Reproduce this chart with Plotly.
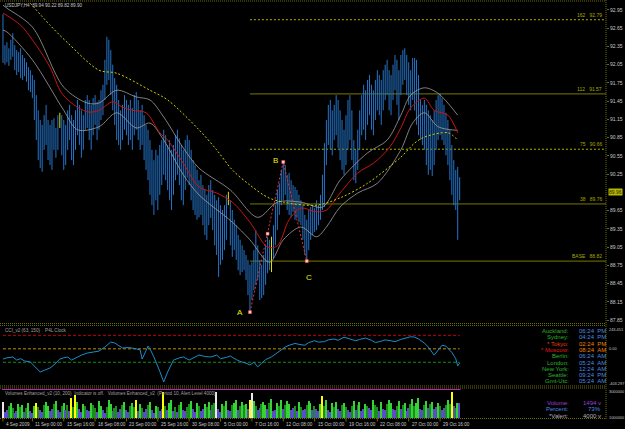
import plotly.graph_objects as go

W, H = 625, 429

# ---------------- data ----------------
tick_idx = [0, 15, 31, 47, 63, 79, 95, 111, 127, 143, 159, 175, 191, 207, 223]
tick_labels = ["4 Sep 2009", "11 Sep 00:00", "15 Sep 16:00", "18 Sep 08:00", "23 Sep 00:00",
               "25 Sep 16:00", "30 Sep 08:00", "5 Oct 00:00", "7 Oct 16:00", "12 Oct 08:00",
               "15 Oct 00:00", "19 Oct 16:00", "22 Oct 08:00", "27 Oct 00:00", "29 Oct 16:00"]

high = [92.88, 92.37, 92.42, 92.32, 92.46, 92.57, 92.37, 92.29, 92.26, 92.32,
        92.21, 92.16, 92.09, 92.01, 91.96, 91.88, 91.80, 91.55, 91.30, 91.14,
        91.06, 91.22, 91.39, 91.14, 91.06, 91.14, 91.17, 91.01, 91.22, 91.26,
        91.22, 91.14, 91.06, 91.30, 91.39, 91.22, 91.14, 91.30, 91.47, 91.39,
        91.30, 91.22, 91.47, 91.55, 91.47, 91.39, 91.50, 91.55, 91.44, 91.47,
        91.63, 91.72, 92.13, 92.51, 92.46, 92.29, 92.05, 91.83, 91.72, 91.47,
        91.30, 91.39, 91.55, 91.47, 91.39, 91.47, 91.34, 91.55, 91.60, 91.47,
        91.30, 91.39, 91.22, 91.06, 90.98, 90.81, 90.65, 90.48, 90.65, 90.56,
        90.73, 90.81, 90.98, 90.89, 90.73, 90.81, 90.65, 90.73, 90.89, 90.98,
        90.84, 90.73, 90.65, 90.81, 90.89, 90.81, 90.65, 90.48, 90.40, 90.32,
        90.15, 90.24, 90.07, 89.99, 89.91, 90.07, 90.15, 89.99, 89.91, 89.82,
        89.87, 89.74, 89.66, 89.74, 89.91, 89.96, 89.82, 89.66, 89.50, 89.41,
        89.25, 89.17, 89.08, 89.00, 88.92, 88.84, 88.76, 88.80, 89.00, 89.33,
        89.08, 88.84, 88.76, 88.92, 89.08, 89.22, 89.17, 89.22, 89.41, 89.74,
        89.99, 90.10, 90.32, 90.45, 90.40, 90.24, 90.27, 90.15, 90.07, 90.04,
        89.99, 89.91, 89.82, 89.74, 89.58, 89.50, 89.66, 89.71, 89.74, 89.69,
        89.82, 89.74, 89.91, 90.24, 90.76, 91.14, 91.39, 91.47, 91.30, 91.39,
        91.55, 91.47, 91.30, 91.14, 90.98, 91.22, 91.47, 91.55, 91.30, 90.81,
        90.65, 90.98, 91.30, 91.55, 91.72, 91.63, 91.80, 91.88, 91.72, 91.63,
        91.80, 91.96, 91.88, 91.80, 91.96, 92.05, 92.13, 91.96, 91.88, 92.05,
        92.21, 92.13, 91.96, 92.21, 92.29, 92.32, 92.21, 92.09, 91.96, 92.16,
        92.16, 92.13, 91.88, 91.47, 91.39, 91.47, 91.39, 91.30, 91.22, 91.14,
        91.30, 91.47, 91.55, 91.58, 91.50, 91.39, 91.26, 91.14, 90.98, 90.73,
        90.48, 90.32, 90.37, 90.20]

low = [92.08, 92.05, 92.09, 92.03, 92.13, 92.18, 91.96, 91.88, 91.93, 91.83,
       91.80, 91.86, 91.77, 91.63, 91.60, 91.50, 91.14, 90.81, 90.48, 90.35,
       90.29, 90.65, 90.73, 90.48, 90.40, 90.32, 90.65, 90.52, 90.65, 91.01,
       90.56, 90.32, 90.40, 90.65, 90.81, 90.48, 90.40, 90.65, 90.89, 90.73,
       90.52, 90.65, 90.98, 91.01, 90.81, 90.65, 90.89, 91.06, 90.81, 90.98,
       91.14, 91.22, 91.47, 91.72, 91.80, 91.55, 91.30, 91.06, 90.81, 90.73,
       90.65, 90.81, 90.98, 90.89, 90.73, 90.81, 90.65, 90.89, 90.98, 90.81,
       90.65, 90.73, 90.48, 90.32, 90.15, 89.91, 89.74, 89.58, 89.82, 89.66,
       89.91, 90.07, 90.24, 90.15, 89.99, 89.82, 89.66, 89.91, 90.15, 90.24,
       90.07, 89.82, 89.74, 89.99, 90.19, 90.07, 89.82, 89.66, 89.58, 89.50,
       89.54, 89.58, 89.41, 89.25, 89.17, 89.41, 89.53, 89.33, 89.08, 88.92,
       88.56, 88.76, 88.84, 89.00, 89.17, 89.74, 89.08, 88.89, 89.00, 88.84,
       88.67, 88.59, 88.64, 88.67, 88.51, 88.26, 87.98, 88.18, 88.34, 88.43,
       88.51, 88.18, 88.21, 88.26, 88.43, 88.62, 88.67, 88.64, 88.87, 89.08,
       89.33, 89.58, 89.74, 89.82, 89.91, 89.66, 89.58, 89.54, 89.63, 89.50,
       89.53, 89.46, 89.41, 89.17, 88.92, 88.82, 89.00, 89.17, 89.25, 89.30,
       89.33, 89.41, 89.50, 89.66, 89.71, 90.40, 90.73, 90.65, 90.56, 90.81,
       90.89, 90.68, 90.48, 90.32, 90.24, 90.40, 90.65, 90.81, 90.48, 90.15,
       90.10, 90.32, 90.65, 90.89, 90.98, 90.81, 91.06, 91.22, 90.98, 90.89,
       91.14, 91.30, 91.22, 91.06, 91.30, 91.47, 91.55, 91.30, 91.22, 91.47,
       91.63, 91.39, 91.14, 91.55, 91.72, 91.80, 91.55, 91.39, 91.30, 91.47,
       91.30, 91.06, 90.89, 90.81, 90.73, 90.65, 90.40, 90.24, 90.32, 90.22,
       90.40, 90.65, 90.81, 90.89, 90.81, 90.73, 90.56, 90.40, 90.15, 89.91,
       89.74, 89.66, 89.17, 89.82]

yellow_bar_idx = [29, 115, 137]

red_idx = [0, 9, 15, 24, 30, 38, 44, 49, 56, 61, 66, 73, 80, 84, 92, 100, 109, 117,
           126, 135, 140, 146, 152, 160, 165, 172, 181, 189, 197, 203, 208, 215, 220, 227, 232]
red_val = [92.90, 92.70, 92.46, 92.01, 91.58, 91.35, 91.27, 91.30, 91.44, 91.35, 91.30,
           91.26, 90.93, 90.81, 90.43, 90.04, 89.94, 89.79, 89.46, 89.05, 89.07, 89.50,
           89.69, 89.63, 89.66, 89.94, 90.27, 90.43, 90.68, 91.01, 91.34, 91.50, 91.30,
           91.22, 90.93]

upper_idx = [0, 2, 15, 31, 43, 49, 58, 68, 75, 82, 92, 100, 116, 130, 140, 152, 163,
             172, 186, 196, 203, 208, 215, 222, 232]
upper_val = [93.03, 92.98, 92.67, 91.68, 91.42, 91.42, 91.63, 91.52, 91.47, 91.19, 90.68,
             90.35, 89.99, 89.54, 89.79, 89.79, 89.71, 90.15, 90.60, 90.81, 91.22, 91.55,
             91.67, 91.58, 91.22]

lower_idx = [0, 2, 15, 31, 38, 49, 58, 68, 75, 82, 92, 100, 117, 126, 136, 143, 152,
             160, 165, 172, 181, 191, 203, 209, 215, 222, 232]
lower_val = [92.62, 92.59, 92.13, 91.30, 90.98, 91.03, 91.26, 91.01, 91.09, 90.81, 90.24,
             89.91, 89.46, 89.17, 88.80, 89.17, 89.38, 89.22, 89.38, 89.71, 89.94, 90.10,
             90.65, 91.09, 91.26, 91.03, 90.97]

slow_idx = [14, 24, 33, 49, 58, 75, 84, 100, 109, 117, 126, 135, 143, 160, 172, 186,
            203, 210, 215, 227, 232]
slow_val = [93.06, 92.70, 92.41, 91.96, 91.91, 91.63, 91.47, 90.98, 90.65, 90.32, 90.07,
            89.87, 89.79, 89.74, 89.86, 90.10, 90.53, 90.76, 90.86, 90.93, 90.81]

abc_idx = [126, 135, 143, 155]
abc_val = [87.98, 89.27, 90.45, 88.82]

level_names = ["162", "112", "75", "38", "BASE"]
level_vals = [92.79, 91.57, 90.66, 89.76, 88.82]
level_start = 126
last_price = 89.96

price_ticks = [92.95, 92.65, 92.35, 92.05, 91.75, 91.45, 91.15, 90.85, 90.55, 90.25,
               89.65, 89.35, 89.05, 88.75, 88.45, 88.15, 87.85]

cci_idx = [0, 2, 5, 7, 9, 11, 14, 16, 19, 21, 24, 26, 29, 31, 33, 35, 38, 40, 43, 46,
           49, 52, 55, 57, 59, 61, 64, 66, 68, 70, 71, 73, 74, 75, 77, 80, 82, 84, 87, 90,
           92, 95, 98, 100, 103, 106, 109, 111, 114, 116, 119, 121, 124, 126, 128, 130, 132,
           134, 137, 139, 141, 144, 146, 149, 151, 154, 156, 159, 161, 164, 166, 169, 171,
           174, 177, 180, 182, 185, 188, 190, 193, 195, 198, 200, 203, 205, 208, 210, 212,
           215, 217, 220, 222, 224, 226, 229, 231, 232, 233]
cci_val = [-114, -100, -91, -125, -110, -135, -147, -190, -259, -240, -214, -180, -114,
           -100, -91, -125, -91, -70, -47, -40, -25, 20, 76, 65, 40, 9, 15, 9, 0, -13, -114,
           -20, 31, 0, -91, -250, -370, -259, -125, -100, -91, -125, -90, -69, -85, -91,
           -70, -110, -95, -80, -120, -140, -160, -180, -150, -200, -160, -120, -90, -60,
           -20, 20, 40, 60, 50, 40, 70, 90, 75, 80, 100, 110, 95, 130, 110, 90, 105, 120,
           95, 70, 85, 100, 90, 80, 105, 120, 135, 130, 110, 65, 20, -70, -20, 40, 30, -40,
           -110, -190, -160]
cci_levels = [150, 0, -150]
cci_top, cci_bottom = 243.451, -403.297

vol_codes = ("wppdgdppgd" "gpdgppgydp" "pdggppdgpp" "dgpdpydygp" "pgdppgddpg"
             "gppdggpddp" "pdgppdgdyp" "gdppdgppgd" "ppydpggpdp" "dgppddgppg"
             "dppgdgpddw" "ppgdgppdgg" "pdgdgpywgd" "ppdggpdgpp" "gdgpdggppd"
             "pgdppdggpd" "ppgydgppgd" "gppdgdppdg" "pdgppgdppg" "ddpgppdggp"
             "pdgpdgppdg" "dggppdgpdg" "ppgdppdgdy" "pdgp")
volume = [1600, 600, 800, 1200, 1500, 1000, 500, 700, 1400, 1100,
          1300, 600, 1000, 1500, 700, 500, 1200, 1500, 1100, 800,
          600, 1300, 1600, 1200, 700, 900, 1400, 1700, 800, 600,
          1200, 1500, 800, 1300, 700, 2000, 1100, 2300, 1600, 900,
          600, 1400, 1200, 800, 700, 1500, 1300, 1000, 600, 1700,
          1200, 800, 500, 1100, 1800, 1400, 700, 1000, 1200, 600,
          900, 1300, 1600, 800, 600, 1200, 1500, 1100, 1800, 700,
          1400, 1000, 600, 900, 1300, 1600, 800, 500, 1200, 1100,
          700, 900, 2600, 1200, 800, 1500, 1800, 700, 1100, 600,
          1300, 1600, 800, 700, 1100, 1400, 1700, 900, 600, 1500,
          1200, 700, 900, 1400, 1100, 1600, 800, 1300, 1500, 2600,
          900, 600, 1400, 1200, 1700, 800, 700, 1300, 1500, 1800,
          800, 1200, 1600, 1300, 1400, 900, 1800, 2500, 1700, 1200,
          800, 1000, 1400, 1600, 1300, 900, 1500, 1900, 700, 800,
          1500, 1200, 1800, 900, 1300, 1700, 1400, 800, 1000, 1200,
          700, 1600, 1100, 800, 900, 1300, 1700, 1500, 800, 1200,
          900, 700, 1400, 2200, 1200, 1800, 800, 600, 1500, 1100,
          1600, 900, 700, 1300, 1500, 1100, 800, 600, 1200, 1700,
          800, 1300, 1600, 700, 900, 1400, 1200, 1000, 800, 1800,
          1300, 1100, 700, 1600, 900, 800, 1400, 1800, 1500, 900,
          800, 1200, 1700, 900, 1300, 1500, 700, 1000, 1400, 1900,
          1200, 1500, 2000, 900, 800, 1300, 1700, 1000, 1400, 1600,
          900, 1100, 1500, 1200, 800, 1000, 1300, 1800, 1400, 2600,
          1200, 1000, 1500, 1494]
vol_colors = {"w": "#e8e8e8", "p": "#5a4ec8", "d": "#1c8c1c", "g": "#36d336", "y": "#ffff00"}

clock_names = ["Auckland:", "Sydney:", "* Tokyo:", "* Moscow:", "Berlin:", "London:",
               "New York:", "Seattle:", "Gmt-Utc:"]
clock_times = ["06:24  PM", "04:24  PM", "02:24  PM", "08:24  AM", "06:24  AM", "05:24  AM",
               "12:24  AM", "09:24  PM", "05:24  AM"]

# ---------------- layout helpers ----------------
X0, X1 = 2, 606          # plot area in pixels
PX_PER_BAR = 1.96
xr = [-0.5, -0.5 + (X1 - X0) / PX_PER_BAR]


def fx(px):
    return px / W


def fy(py):
    return 1 - py / H


def dom(top, bottom):
    return [1 - bottom / H, 1 - top / H]


OLIVE = "#6e6e00"
TXT = "#c8c8c8"
FONT = "Liberation Sans"
SMALL = 4.6

fig = go.Figure()

# price bars (high-low lines)
bx, by = [], []
for i, (hi, lo) in enumerate(zip(high, low)):
    if i in yellow_bar_idx:
        continue
    bx += [i, i, None]
    by += [lo, hi, None]
fig.add_trace(go.Scatter(x=bx, y=by, mode="lines", line=dict(color="#2574c8", width=1),
                         hoverinfo="skip", showlegend=False))
yx, yy = [], []
for i in yellow_bar_idx:
    yx += [i, i, None]
    yy += [low[i], high[i], None]
fig.add_trace(go.Scatter(x=yx, y=yy, mode="lines", line=dict(color="#e0e000", width=1),
                         hoverinfo="skip", showlegend=False))

# moving averages / bands
for xs, ys, col, dash, wd in [
    (upper_idx, upper_val, "#a0a0a0", "solid", 0.8),
    (lower_idx, lower_val, "#a0a0a0", "solid", 0.8),
    (red_idx, red_val, "#c81414", "solid", 1.0),
    (slow_idx, slow_val, "#d0d000", "2px,2px", 1.0),
]:
    fig.add_trace(go.Scatter(x=xs, y=ys, mode="lines",
                             line=dict(color=col, width=wd, dash=dash, shape="spline", smoothing=0.9),
                             hoverinfo="skip", showlegend=False))

# ABC pattern
fig.add_trace(go.Scatter(x=abc_idx, y=abc_val, mode="lines+markers",
                         line=dict(color="#e83030", width=1, dash="2px,2px"),
                         marker=dict(symbol="square", size=3, color="#ffd0d0",
                                     line=dict(color="#ff4040", width=0.5)),
                         hoverinfo="skip", showlegend=False))

# CCI
for lv, col in zip(cci_levels, ["#c00000", "#c09000", "#109010"]):
    fig.add_trace(go.Scatter(x=[0, len(high) - 1], y=[lv, lv], mode="lines", yaxis="y2",
                             line=dict(color=col, width=1, dash="3px,2px"),
                             hoverinfo="skip", showlegend=False))
fig.add_trace(go.Scatter(x=cci_idx, y=cci_val, mode="lines", yaxis="y2",
                         line=dict(color="#1e8cc8", width=1), hoverinfo="skip", showlegend=False))

# Volumes
fig.add_trace(go.Bar(x=list(range(len(volume))), y=volume, yaxis="y3", width=0.75,
                     marker=dict(color=[vol_colors[c] for c in vol_codes], line=dict(width=0)),
                     hoverinfo="skip", showlegend=False))

shapes = []
annotations = []

# level lines
for name, v in zip(level_names, level_vals):
    dotted = name in ("162", "75")
    shapes.append(dict(type="line", xref="x", yref="y", x0=level_start, x1=xr[1], y0=v, y1=v,
                       line=dict(color="#b0b000" if dotted else "#787800", width=1,
                                 dash="2px,2px" if dotted else "solid"), layer="below"))
    annotations.append(dict(xref="paper", yref="y", x=fx(604), y=v, xanchor="right",
                            yanchor="bottom", text=f"{name}&nbsp;&nbsp;&nbsp;{v:.2f}", showarrow=False,
                            font=dict(family=FONT, size=5, color="#a8a800")))

# frame / separators
DOT = "1px,1px"
shapes += [
    dict(type="line", xref="paper", yref="paper", x0=fx(X1), x1=fx(X1), y0=fy(0), y1=fy(419),
         line=dict(color=OLIVE, width=1, dash=DOT)),
    dict(type="line", xref="paper", yref="paper", x0=fx(0), x1=fx(X1), y0=fy(1), y1=fy(1),
         line=dict(color=OLIVE, width=1, dash=DOT)),
    dict(type="line", xref="paper", yref="paper", x0=fx(0), x1=fx(X1), y0=fy(418.5), y1=fy(418.5),
         line=dict(color=OLIVE, width=1, dash=DOT)),
]
for yp in (323.5, 325.5, 386.0, 388.0):
    shapes.append(dict(type="line", xref="paper", yref="paper", x0=fx(0), x1=fx(X1),
                       y0=fy(yp), y1=fy(yp), line=dict(color=OLIVE, width=1, dash=DOT)))
shapes.append(dict(type="line", xref="x", yref="paper", x0=-0.5, x1=len(high) - 0.5,
                   y0=fy(389.5), y1=fy(389.5), line=dict(color="#c020c0", width=1)))

# x tick marks + labels
for ti, tl in zip(tick_idx, tick_labels):
    shapes.append(dict(type="line", xref="x", yref="paper", x0=ti, x1=ti, y0=fy(418), y1=fy(421.5),
                       line=dict(color=OLIVE, width=1)))
    annotations.append(dict(xref="x", yref="paper", x=ti, y=fy(424), xanchor="left",
                            yanchor="middle", xshift=1, text=tl, showarrow=False,
                            font=dict(family=FONT, size=SMALL, color=TXT)))

# title & panel labels
annotations.append(dict(xref="paper", yref="paper", x=fx(3), y=fy(5), xanchor="left",
                        yanchor="middle", showarrow=False,
                        text="USDJPY,H4&nbsp;&nbsp;89.94 90.22 89.82 89.90",
                        font=dict(family=FONT, size=SMALL, color=TXT)))
annotations.append(dict(xref="paper", yref="paper", x=fx(3), y=fy(330), xanchor="left",
                        yanchor="middle", showarrow=False,
                        text="CCI_v2 (63, 150)&nbsp;&nbsp;&nbsp;&nbsp;P4L Clock",
                        font=dict(family=FONT, size=SMALL, color="#a0a0a0")))
annotations.append(dict(xref="paper", yref="paper", x=fx(3), y=fy(393), xanchor="left",
                        yanchor="middle", showarrow=False,
                        text="Volumes Enhanced_v2 (10, 200)&nbsp;&nbsp;Indicator is off.&nbsp;&nbsp;&nbsp;"
                             "Volumes Enhanced_v2&nbsp;&nbsp;(Period 10, Alert Level 4000)",
                        font=dict(family=FONT, size=SMALL, color="#a0a0a0")))

# ABC letters
for lab, i, v, dx, dy in [("A", abc_idx[0], abc_val[0], -10, 0),
                          ("B", abc_idx[2], abc_val[2], -8, 2),
                          ("C", abc_idx[3], abc_val[3], 2, -16)]:
    annotations.append(dict(xref="x", yref="y", x=i, y=v, xshift=dx, yshift=dy, showarrow=False,
                            text=lab, font=dict(family=FONT, size=8, color="#f0f000")))

# current price box
annotations.append(dict(xref="paper", yref="y", x=fx(608), y=last_price, xanchor="left",
                        yanchor="middle", showarrow=False, text=f"{last_price:.2f}",
                        bgcolor="#b8b800", borderpad=0,
                        font=dict(family=FONT, size=5, color="#202000")))

# CCI / volume axis labels
for txt, yp in [("243.451", 329), ("0.00", 348.5), ("-403.297", 383), ("3000000", 391),
                ("1000000", 417)]:
    annotations.append(dict(xref="paper", yref="paper", x=fx(607), y=fy(yp), xanchor="left",
                            yanchor="middle", showarrow=False, text=txt,
                            font=dict(family=FONT, size=3.9, color=TXT)))

# clock
clock_y = [331, 337.3, 343.6, 349.9, 356.2, 362.5, 368.8, 375.1, 381.4]
for name, t, yp in zip(clock_names, clock_times, clock_y):
    if name.startswith("*"):
        ncol = "#e01818" if "Moscow" in name else "#e04010"
        tcol = "#f08000"
    else:
        ncol, tcol = "#28b428", "#4a8ae0"
    annotations.append(dict(xref="paper", yref="paper", x=fx(571), y=fy(yp), xanchor="right",
                            yanchor="middle", showarrow=False, text=name,
                            font=dict(family=FONT, size=6, color=ncol)))
    annotations.append(dict(xref="paper", yref="paper", x=fx(577), y=fy(yp), xanchor="left",
                            yanchor="middle", showarrow=False, text=t.replace(" ", "&nbsp;"),
                            font=dict(family=FONT, size=6, color=tcol)))

for name, val, col, yp in [("Volume:", "1494 v", "#a040d8", 402.7),
                           ("Percent:", "73%", "#4a8ae0", 409.3),
                           ("*Valert:", "4000 v", "#b0b0b0", 416)]:
    annotations.append(dict(xref="paper", yref="paper", x=fx(571), y=fy(yp), xanchor="right",
                            yanchor="middle", showarrow=False, text=name,
                            font=dict(family=FONT, size=6, color=col)))
    annotations.append(dict(xref="paper", yref="paper", x=fx(603), y=fy(yp), xanchor="right",
                            yanchor="middle", showarrow=False, text=val.replace(" ", "&nbsp;"),
                            font=dict(family=FONT, size=6, color=col)))

fig.update_layout(
    width=W, height=H, margin=dict(l=0, r=0, t=0, b=0),
    paper_bgcolor="#000000", plot_bgcolor="#000000",
    showlegend=False, bargap=0,
    xaxis=dict(domain=[fx(X0), fx(X1)], range=xr, anchor="y3", showgrid=False, zeroline=False,
               showticklabels=False, ticks="", showline=False),
    yaxis=dict(domain=dom(3, 323), range=[87.802, 93.065], anchor="x", side="right",
               tickvals=price_ticks, ticktext=[f"{v:.2f}" for v in price_ticks],
               ticks="outside", ticklen=2, tickcolor=OLIVE, showgrid=False, zeroline=False,
               showline=False, tickfont=dict(family=FONT, size=5, color=TXT)),
    yaxis2=dict(domain=dom(327, 385), range=[cci_bottom, cci_top], anchor="x", side="right",
                showticklabels=False, ticks="", showgrid=False, zeroline=False, showline=False),
    yaxis3=dict(domain=dom(389, 418), range=[0, 2900], anchor="x", side="right",
                showticklabels=False, ticks="", showgrid=False, zeroline=False, showline=False),
    shapes=shapes, annotations=annotations,
)

fig.write_html("out.html")
